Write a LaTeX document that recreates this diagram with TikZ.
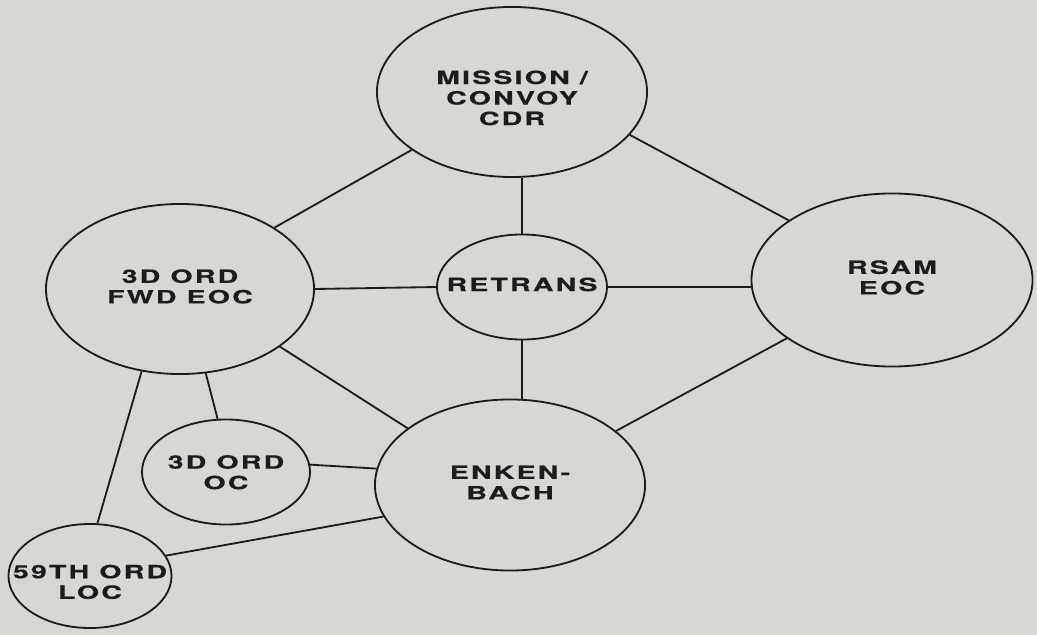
\documentclass[tikz,border=0pt]{standalone}
\usepackage{fontspec}
\setmainfont{TeX Gyre Heros}[FakeStretch=1.56,LetterSpace=12,BoldFeatures={FakeBold=0.4}]
\usetikzlibrary{shapes}
\definecolor{paper}{RGB}{216,215,211}
\definecolor{ink}{RGB}{28,28,28}
\newcommand{\stn}[2][-3pt]{\raisebox{#1}[0pt][0pt]{\makebox[0pt]{\begin{tabular}{@{}c@{}}#2\end{tabular}}}}

\begin{document}
\begin{tikzpicture}[x=0.025cm, y=-0.025cm,
  station/.style={ellipse, draw=ink, line width=1.3pt, inner sep=0pt, text=ink,
    font=\bfseries\fontsize{13}{14.6}\selectfont},
  link/.style={draw=ink, line width=1.3pt}]
\fill[paper] (0,0) rectangle (1037,635);
\node[station, minimum width=6.75cm, minimum height=4.25cm] (mission) at (512,92) {\stn[-9pt]{MISSION /\\CONVOY\\CDR}};
\node[station, minimum width=6.7cm, minimum height=4.25cm] (fwd) at (180,289) {\stn{3D ORD\\FWD EOC}};
\node[station, minimum width=4.25cm, minimum height=2.625cm] (retrans) at (522,287) {\stn{RETRANS}};
\node[station, minimum width=7.025cm, minimum height=4.325cm] (rsam) at (892,280) {\stn{RSAM\\EOC}};
\node[station, minimum width=6.75cm, minimum height=4.275cm] (enken) at (510,485) {\stn{ENKEN-\\BACH}};
\node[station, minimum width=4.2cm, minimum height=2.625cm] (oc) at (226,472) {\stn[-5pt]{3D ORD\\OC}};
\node[station, minimum width=4.075cm, minimum height=2.6cm] (loc) at (90,576) {\stn[-9pt]{59TH ORD\\LOC}};

\draw[link] (mission.210) -- (fwd.33);
\draw[link] (retrans.north) -- (retrans.north |- mission.south);
\draw[link] (mission.340) -- (rsam.150);
\draw[link] (fwd.east) -- (retrans.west);
\draw[link] (retrans.east) -- (retrans.east -| rsam.west);
\draw[link] (retrans.south) -- (retrans.south |- enken.north);
\draw[link] (fwd.330) -- (enken.151);
\draw[link] (rsam.209) -- (enken.27);
\draw[link] (fwd.287) -- (oc.99);
\draw[link] (fwd.245) -- (loc.82);
\draw[link] (oc.5) -- (enken.173);
\draw[link] (loc.15) -- (enken.194);
\end{tikzpicture}
\end{document}
